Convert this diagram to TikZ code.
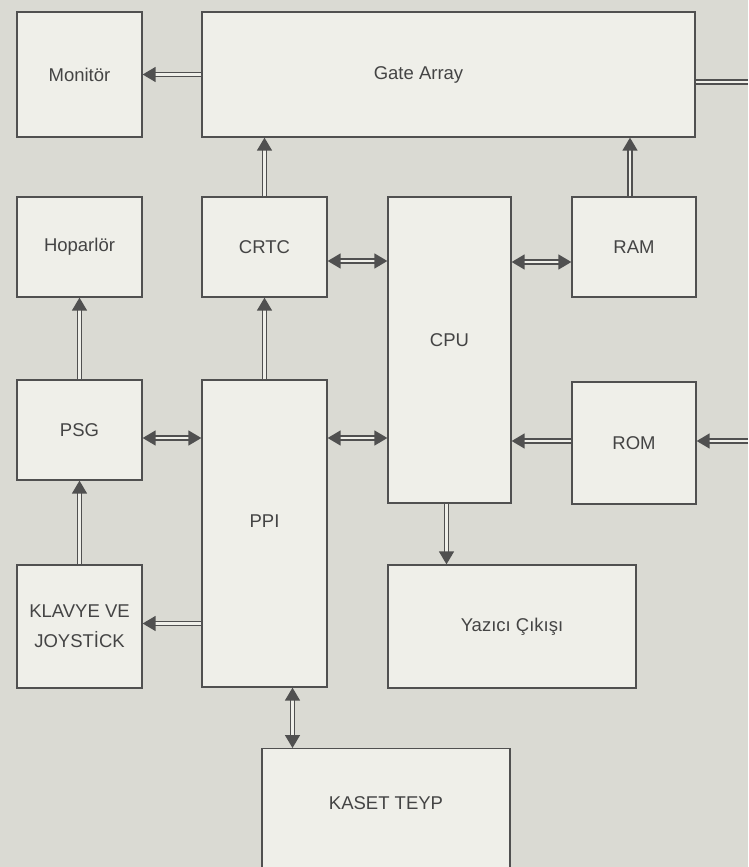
\documentclass[tikz,border=0pt]{standalone}
\usepackage{fontspec}
\setmainfont{Liberation Sans}
\usepackage{tikz}
\usetikzlibrary{arrows.meta,positioning,calc}
\definecolor{paper}{RGB}{218,218,211}
\definecolor{boxfill}{RGB}{239,239,233}
\definecolor{linegray}{RGB}{80,80,80}
\definecolor{textgray}{RGB}{68,68,68}

\begin{document}
\begin{tikzpicture}[
    x=1pt, y=-1pt,
    box/.style={rectangle, draw=linegray, line width=1.3pt, fill=boxfill, text=textgray, align=center,
      font=\fontsize{18.5}{30}\selectfont, minimum width=125pt, minimum height=100pt, inner sep=0pt},
    bus/.style={draw=linegray, line width=1.6pt, double=boxfill, double distance=2.2pt,
      -{Triangle[length=13pt, width=15pt]}},
    busboth/.style={bus, {Triangle[length=13pt, width=15pt]}-{Triangle[length=13pt, width=15pt]}}
  ]
    \useasboundingbox (0,0) rectangle (748,867);
    \fill[paper] (0,0) rectangle (748,867);

    % top row
    \node[box, minimum height=125pt] (monitor) at (79.5,74.5) {Monit\"or};
    \node[box, minimum width=493pt, minimum height=125pt] (gate) at (448.5,74.5) {\hspace*{-60pt}Gate Array};
    % second row
    \node[box] (hopar) at (79.5,247) {Hoparl\"or};
    \node[box] (crtc) at (264.5,247) {CRTC};
    \node[box, minimum width=123pt, minimum height=306pt, text depth=20pt] (cpu) at (449.5,350) {CPU};
    \node[box, minimum width=124pt] (ram) at (634,247) {RAM};
    % third row
    \node[box] (psg) at (79.5,430) {PSG};
    \node[box, minimum width=125pt, minimum height=307pt, text depth=24pt] (ppi) at (264.5,533.5) {PPI};
    \node[box, minimum width=124pt, minimum height=122pt] (rom) at (634,443) {ROM};
    % bottom
    \node[box, minimum height=123pt] (klavye) at (79.5,626.5) {KLAVYE VE\\JOYST\.ICK};
    \node[box, minimum width=248pt, minimum height=123pt] (yazici) at (512,626.5) {Yaz\i c\i{} \c C\i k\i \c s\i};
    \node[box, minimum width=248pt, minimum height=0pt, text height=61pt, text depth=91pt, anchor=north] (kaset) at (386,748) {KASET TEYP};

    \coordinate (gateout) at (748,82);
    \coordinate (romin) at (748,441);

    \draw[bus] (gate.west) -- (monitor.east);
    \draw[bus, -] (gate.east |- gateout) -- (gateout);
    \draw[bus] (crtc.north) -- (crtc.north |- gate.south);
    \draw[bus] ([xshift=-4pt]ram.north) -- ([xshift=-4pt]ram.north |- gate.south);
    \draw[busboth] ([yshift=-14pt]crtc.east) -- ([yshift=-14pt]crtc.east -| cpu.west);
    \draw[busboth] ([yshift=-15pt]ram.west) -- ([yshift=-15pt]ram.west -| cpu.east);
    \draw[bus] (ppi.north) -- (crtc.south);
    \draw[bus] (psg.north) -- (hopar.south);
    \draw[busboth] ([yshift=-8pt]psg.east) -- ([yshift=-8pt]psg.east -| ppi.west);
    \draw[busboth] ([yshift=-8pt]psg.east -| ppi.east) -- ([yshift=-8pt]psg.east -| cpu.west);
    \draw[bus] ([yshift=2pt]rom.west) -- ([yshift=2pt]rom.west -| cpu.east);
    \draw[bus] (romin) -- (romin -| rom.east);
    \draw[bus] (klavye.north) -- (psg.south);
    \draw[bus] ([yshift=3pt]klavye.east -| ppi.west) -- ([yshift=3pt]klavye.east);
    \draw[bus] ([xshift=-3pt]cpu.south) -- ([xshift=-3pt]cpu.south |- yazici.north);
    \draw[busboth] ([xshift=28pt]ppi.south) -- ([xshift=28pt]ppi.south |- kaset.north);
  \end{tikzpicture}
\end{document}
